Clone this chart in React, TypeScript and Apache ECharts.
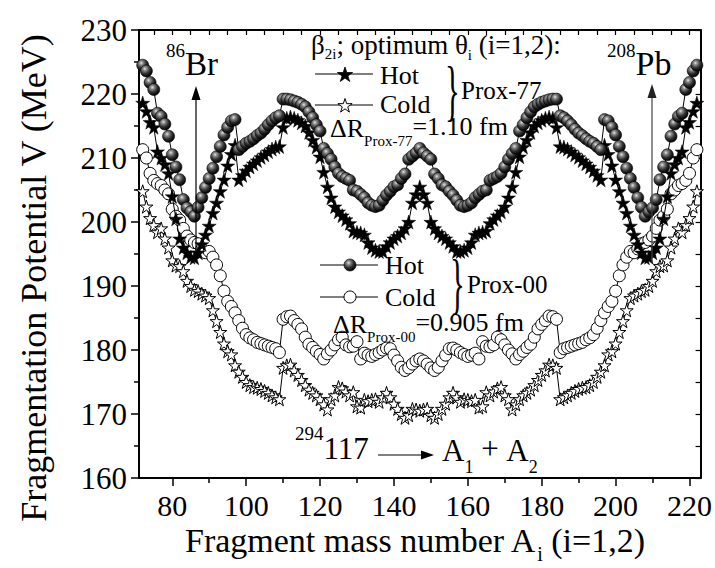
import React, { useEffect, useRef } from 'react';
import * as echarts from 'echarts';

// Fragment mass numbers A1 = 72 ... 222 (A1 + A2 = 294)
const massNumbers: number[] = Array.from({ length: 151 }, (_, i) => 72 + i);

// Prox-77, hot (filled stars)
const prox77Hot: number[] = [
  218.6, 217.3, 215.6, 214.8, 211.0, 210.0, 209.0, 207.6, 204.0, 200.5,
  197.4, 196.0, 195.2, 194.5, 194.4, 195.2, 196.5, 198.0, 199.4, 201.4,
  203.0, 204.8, 206.6, 208.8, 210.6, 212.0, 206.6, 207.3, 208.0, 208.6,
  209.1, 209.6, 210.1, 210.5, 211.0, 211.4, 211.7, 211.8, 214.8, 216.2,
  216.4, 216.2, 215.9, 215.5, 215.0, 214.0, 212.8, 211.7, 210.2, 207.8,
  205.5, 203.8, 202.4, 201.6, 201.0, 200.4, 199.8, 198.6, 198.4, 198.3,
  198.0, 196.8, 196.0, 195.6, 195.4, 195.4, 196.2, 196.8, 197.4, 197.8,
  198.3, 199.0, 200.0, 203.0, 204.3, 205.5,
  204.3, 203.0, 200.0, 199.0, 198.3, 197.8, 197.4, 196.8, 196.2, 195.4,
  195.4, 195.6, 196.0, 196.8, 198.0, 198.3, 198.4, 198.6, 199.8, 200.4,
  201.0, 201.6, 202.4, 203.8, 205.5, 207.8, 210.2, 211.7, 212.8, 214.0,
  215.0, 215.5, 215.9, 216.2, 216.4, 216.2, 214.8, 211.8, 211.7, 211.4,
  211.0, 210.5, 210.1, 209.6, 209.1, 208.6, 208.0, 207.3, 206.6, 212.0,
  210.6, 208.8, 206.6, 204.8, 203.0, 201.4, 199.4, 198.0, 196.5, 195.2,
  194.4, 194.5, 195.2, 196.0, 197.4, 200.5, 204.0, 207.6, 209.0, 210.0,
  211.0, 214.8, 215.6, 217.3, 218.6,
];

// Prox-77, cold (open stars)
const prox77Cold: number[] = [
  204.8, 202.4, 200.6, 199.5, 198.4, 199.0, 197.4, 196.0, 194.0, 193.2,
  193.1, 192.3, 190.8, 190.0, 189.4, 189.2, 188.8, 188.5, 188.1, 186.2,
  184.5, 182.8, 181.0, 179.8, 179.3, 177.6, 176.6, 175.8, 175.0, 174.5,
  174.2, 174.1, 173.9, 173.6, 173.3, 172.9, 172.6, 172.3, 177.2, 177.6,
  177.7, 176.8, 176.1, 175.3, 174.5, 173.8, 173.3, 172.9, 172.3, 171.5,
  170.7, 172.3, 172.9, 174.2, 174.0, 173.5, 172.9, 173.4, 171.2, 171.0,
  172.2, 172.0, 172.2, 172.3, 171.9, 172.6, 173.3, 172.6, 171.6, 170.8,
  170.0, 169.4, 169.8, 170.8, 170.7, 170.5,
  170.7, 170.8, 169.8, 169.4, 170.0, 170.8, 171.6, 172.6, 173.3, 172.6,
  171.9, 172.3, 172.2, 172.0, 172.2, 171.0, 171.2, 173.4, 172.9, 173.5,
  174.0, 174.2, 172.9, 172.3, 170.7, 171.5, 172.3, 172.9, 173.3, 173.8,
  174.5, 175.3, 176.1, 176.8, 177.7, 177.6, 177.2, 172.3, 172.6, 172.9,
  173.3, 173.6, 173.9, 174.1, 174.2, 174.5, 175.0, 175.8, 176.6, 177.6,
  179.3, 179.8, 181.0, 182.8, 184.5, 186.2, 188.1, 188.5, 188.8, 189.2,
  189.4, 190.0, 190.8, 192.3, 193.1, 193.2, 194.0, 196.0, 197.4, 199.0,
  198.4, 199.5, 200.6, 202.4, 204.8,
];

// Prox-00, hot (shaded spheres)
const prox00Hot: number[] = [
  224.5, 223.6, 221.8, 220.7, 217.0, 216.5, 215.3, 213.4, 210.5, 208.6,
  206.6, 203.5, 202.2, 201.6, 200.9, 202.3, 203.8, 205.4, 206.8, 208.4,
  210.2, 211.8, 213.6, 214.8, 215.8, 216.0, 211.3, 211.8, 212.3, 212.6,
  213.0, 213.5, 213.9, 214.5, 215.2, 215.8, 216.3, 216.6, 219.2, 219.2,
  219.1, 218.9, 218.7, 218.4, 218.0, 217.2, 216.3, 215.2, 214.2, 211.5,
  210.7, 209.8, 208.6, 207.6, 207.1, 206.8, 206.5, 205.0, 204.8, 204.3,
  203.8, 203.0, 202.6, 202.4, 202.6, 203.4, 204.2, 204.8, 205.5, 205.8,
  206.8, 207.5, 209.8, 210.3, 210.8, 211.5,
  210.8, 210.3, 209.8, 207.5, 206.8, 205.8, 205.5, 204.8, 204.2, 203.4,
  202.6, 202.4, 202.6, 203.0, 203.8, 204.3, 204.8, 205.0, 206.5, 206.8,
  207.1, 207.6, 208.6, 209.8, 210.7, 211.5, 214.2, 215.2, 216.3, 217.2,
  218.0, 218.4, 218.7, 218.9, 219.1, 219.2, 219.2, 216.6, 216.3, 215.8,
  215.2, 214.5, 213.9, 213.5, 213.0, 212.6, 212.3, 211.8, 211.3, 216.0,
  215.8, 214.8, 213.6, 211.8, 210.2, 208.4, 206.8, 205.4, 203.8, 202.3,
  200.9, 201.6, 202.2, 203.5, 206.6, 208.6, 210.5, 213.4, 215.3, 216.5,
  217.0, 220.7, 221.8, 223.6, 224.5,
];

// Prox-00, cold (open circles)
const prox00Cold: number[] = [
  211.3, 210.0, 207.6, 206.5, 206.0, 205.7, 205.0, 204.4, 202.0, 200.9,
  200.3, 199.0, 197.8, 197.2, 196.8, 196.6, 195.8, 195.2, 195.4, 194.5,
  193.3, 191.6, 189.2, 187.6, 186.8, 185.8, 184.6, 183.4, 182.4, 181.9,
  181.6, 181.2, 181.0, 180.8, 180.6, 180.4, 180.2, 179.6, 184.8, 185.2,
  185.3, 184.6, 184.0, 183.3, 182.0, 180.9, 180.4, 179.8, 179.3, 178.6,
  179.4, 180.0, 180.8, 181.6, 182.0, 180.8, 180.5, 180.6, 181.3, 178.6,
  179.5, 179.2, 179.0, 179.3, 179.6, 180.0, 180.3, 180.2, 179.2, 178.3,
  177.3, 176.8, 177.2, 177.8, 178.3, 178.6,
  178.3, 177.8, 177.2, 176.8, 177.3, 178.3, 179.2, 180.2, 180.3, 180.0,
  179.6, 179.3, 179.0, 179.2, 179.5, 178.6, 181.3, 180.6, 180.5, 180.8,
  182.0, 181.6, 180.8, 180.0, 179.4, 178.6, 179.3, 179.8, 180.4, 180.9,
  182.0, 183.3, 184.0, 184.6, 185.3, 185.2, 184.8, 179.6, 180.2, 180.4,
  180.6, 180.8, 181.0, 181.2, 181.6, 181.9, 182.4, 183.4, 184.6, 185.8,
  186.8, 187.6, 189.2, 191.6, 193.3, 194.5, 195.4, 195.2, 195.8, 196.6,
  196.8, 197.2, 197.8, 199.0, 200.3, 200.9, 202.0, 204.4, 205.0, 205.7,
  206.0, 206.5, 207.6, 210.0, 211.3,
];

const xMajorTicks: number[] = [80, 100, 120, 140, 160, 180, 200, 220];
const xMinorTicks: number[] = [90, 110, 130, 150, 170, 190, 210];
const xTopTicks: number[] = [75, 80, 85, 90, 95, 100, 105, 110, 115, 120, 125, 130, 135, 140, 145, 150, 155, 160, 165, 170, 175, 180, 185, 190, 195, 200, 205, 210, 215, 220];

const FONT = 'Liberation Serif, Times New Roman, serif';
const STAR_PATH =
  'path://M50,0L61.23,34.55L97.55,34.55L68.16,55.9L79.39,90.45L50,69.1L20.61,90.45L31.84,55.9L2.45,34.55L38.77,34.55Z';

function pairs(ys: number[]): number[][] {
  return massNumbers.map((a, i) => [a, ys[i]]);
}

function starPoints(cx: number, cy: number, R: number): number[][] {
  const pts: number[][] = [];
  const r = R * 0.382;
  for (let k = 0; k < 10; k++) {
    const ang = (-90 + k * 36) * (Math.PI / 180);
    const rad = k % 2 === 0 ? R : r;
    pts.push([cx + rad * Math.cos(ang), cy + rad * Math.sin(ang)]);
  }
  return pts;
}

function sphereFill() {
  return new echarts.graphic.RadialGradient(0.38, 0.32, 0.7, [
    { offset: 0, color: '#e6e6e6' },
    { offset: 0.22, color: '#8c8c8c' },
    { offset: 0.6, color: '#2e2e2e' },
    { offset: 1, color: '#000000' },
  ]);
}

let measureCtx: CanvasRenderingContext2D | null = null;
function measure(text: string, size: number): number {
  if (!measureCtx) {
    measureCtx = document.createElement('canvas').getContext('2d');
  }
  if (!measureCtx) return text.length * size * 0.5;
  measureCtx.font = `${size}px ${FONT}`;
  return measureCtx.measureText(text).width;
}

type Piece = { t: string; size: number; dy?: number };

function run(pieces: Piece[], x0: number, y0: number, fill = '#000'): any[] {
  let x = x0;
  const els: any[] = [];
  for (const p of pieces) {
    els.push({
      type: 'text',
      x,
      y: y0 + (p.dy || 0),
      z: 100,
      silent: true,
      style: {
        text: p.t,
        fontSize: p.size,
        fontFamily: FONT,
        fill,
        align: 'left',
        verticalAlign: 'middle',
      },
    });
    x += measure(p.t, p.size);
  }
  return els;
}

function hLine(x1: number, x2: number, y: number, color = '#000', width = 1): any {
  return {
    type: 'line',
    z: 100,
    silent: true,
    shape: { x1, y1: y, x2, y2: y },
    style: { stroke: color, lineWidth: width },
  };
}

function brace(x: number, y: number): any {
  return {
    type: 'text',
    x,
    y,
    scaleX: 0.45,
    z: 100,
    silent: true,
    style: { text: '}', fontSize: 68, fontFamily: FONT, fill: '#000', align: 'left', verticalAlign: 'middle' },
  };
}

function buildGraphics(): any[] {
  const g: any[] = [];
  // header
  g.push(
    ...run(
      [
        { t: 'β', size: 27 },
        { t: '2i', size: 15, dy: 9 },
        { t: '; optimum θ', size: 27 },
        { t: 'i', size: 15, dy: 10 },
        { t: ' (i=1,2):', size: 27 },
      ],
      311,
      45
    )
  );
  // Prox-77 legend
  g.push(hLine(315, 373, 74));
  g.push({ type: 'polygon', z: 101, silent: true, shape: { points: starPoints(345, 75, 8) }, style: { fill: '#000', stroke: '#000', lineWidth: 0.8 } });
  g.push(...run([{ t: 'Hot', size: 26 }], 380, 75));
  g.push(hLine(315, 373, 105));
  g.push({ type: 'polygon', z: 101, silent: true, shape: { points: starPoints(345, 106, 7.5) }, style: { fill: '#fff', stroke: '#000', lineWidth: 1 } });
  g.push(...run([{ t: 'Cold', size: 26 }], 380, 104));
  g.push(brace(445, 90));
  g.push(...run([{ t: 'Prox-77', size: 25 }], 461, 90));
  g.push(...run([{ t: 'ΔR', size: 26 }, { t: 'Prox-77', size: 15, dy: 13 }, { t: '=1.10 fm', size: 26, dy: -2 }], 330, 128));

  // Prox-00 legend
  g.push(hLine(320, 378, 265));
  g.push({ type: 'circle', z: 101, silent: true, shape: { cx: 350, cy: 265, r: 6 }, style: { fill: sphereFill(), stroke: '#000', lineWidth: 0.6 } });
  g.push(...run([{ t: 'Hot', size: 26 }], 385, 265));
  g.push(hLine(320, 378, 297));
  g.push({ type: 'circle', z: 101, silent: true, shape: { cx: 350, cy: 297, r: 6 }, style: { fill: '#fff', stroke: '#000', lineWidth: 1 } });
  g.push(...run([{ t: 'Cold', size: 26 }], 385, 297));
  g.push(brace(450, 283));
  g.push(...run([{ t: 'Prox-00', size: 25 }], 467, 284));
  g.push(...run([{ t: 'ΔR', size: 26 }, { t: 'Prox-00', size: 15, dy: 13 }, { t: '=0.905 fm', size: 26, dy: -2 }], 333, 324));

  // 86Br with arrow
  g.push(...run([{ t: '86', size: 19, dy: -14 }, { t: 'Br', size: 33 }], 166, 64));
  g.push({ type: 'line', z: 100, silent: true, shape: { x1: 196, y1: 262, x2: 196, y2: 96 }, style: { stroke: '#000', lineWidth: 1.2 } });
  g.push({ type: 'polygon', z: 100, silent: true, shape: { points: [[196, 86], [191.5, 100], [200.5, 100]] }, style: { fill: '#000' } });

  // 208Pb with arrow
  g.push(...run([{ t: '208', size: 19, dy: -13 }, { t: 'Pb', size: 34 }], 607, 63));
  g.push({ type: 'line', z: 100, silent: true, shape: { x1: 652, y1: 262, x2: 652, y2: 94 }, style: { stroke: '#444', lineWidth: 1.2 } });
  g.push({ type: 'polygon', z: 100, silent: true, shape: { points: [[652, 84], [647.5, 98], [656.5, 98]] }, style: { fill: '#222' } });

  // 294-117 -> A1 + A2
  g.push(...run([{ t: '294', size: 19, dy: -15 }, { t: '117', size: 31 }], 295, 448));
  g.push({ type: 'line', z: 100, silent: true, shape: { x1: 378, y1: 455, x2: 424, y2: 455 }, style: { stroke: '#000', lineWidth: 1.2 } });
  g.push({ type: 'polygon', z: 100, silent: true, shape: { points: [[434, 455], [421, 450.5], [421, 459.5]] }, style: { fill: '#000' } });
  g.push(
    ...run(
      [
        { t: 'A', size: 31 },
        { t: '1', size: 18, dy: 17 },
        { t: ' + ', size: 31, dy: -2 },
        { t: 'A', size: 31 },
        { t: '2', size: 18, dy: 17 },
      ],
      442,
      450
    )
  );

  // x-axis title with subscript
  const xt: Piece[] = [
    { t: 'Fragment mass number A', size: 34 },
    { t: 'i', size: 20, dy: 14 },
    { t: ' (i=1,2)', size: 34 },
  ];
  const totalW = xt.reduce((s, p) => s + measure(p.t, p.size), 0);
  g.push(...run(xt, 415 - totalW / 2, 540));

  // y-axis title (rotated)
  g.push({
    type: 'text',
    x: 34,
    y: 278,
    rotation: Math.PI / 2,
    z: 100,
    silent: true,
    style: {
      text: 'Fragmentation Potential V (MeV)',
      fontSize: 36,
      fontFamily: FONT,
      fill: '#000',
      align: 'center',
      verticalAlign: 'middle',
    },
  });
  return g;
}

export default function App() {
  const ref = useRef<HTMLDivElement>(null);

  useEffect(() => {
    if (!ref.current) return;
    const chart = echarts.init(ref.current, undefined, { renderer: 'svg' });

    const axisCommon = {
      type: 'value' as const,
      splitLine: { show: false },
    };
    const lineBlack = { color: '#000', width: 2 };

    const option: any = {
      animation: false,
      backgroundColor: '#fff',
      textStyle: { fontFamily: FONT },
      grid: { left: 139, right: 9, top: 30, bottom: 90, containLabel: false },
      xAxis: [
        {
          ...axisCommon,
          min: 71,
          max: 223,
          position: 'bottom',
          axisLine: { show: true, onZero: false, lineStyle: lineBlack },
          axisTick: { show: true, inside: false, length: 8, customValues: xMajorTicks, lineStyle: { color: '#000', width: 1.5 } },
          axisLabel: { show: true, customValues: xMajorTicks, fontSize: 30, fontFamily: FONT, color: '#000', margin: 12 },
        },
        {
          ...axisCommon,
          min: 71,
          max: 223,
          position: 'bottom',
          axisLine: { show: false, onZero: false },
          axisTick: { show: true, inside: false, length: 5, customValues: xMinorTicks, lineStyle: { color: '#000', width: 1.5 } },
          axisLabel: { show: false },
        },
        {
          ...axisCommon,
          min: 71,
          max: 223,
          position: 'top',
          axisLine: { show: true, onZero: false, lineStyle: lineBlack },
          axisTick: { show: true, inside: true, length: 5, customValues: xTopTicks, lineStyle: { color: '#000', width: 1.2 } },
          axisLabel: { show: false },
        },
      ],
      yAxis: [
        {
          ...axisCommon,
          min: 160,
          max: 230,
          interval: 10,
          position: 'left',
          axisLine: { show: true, onZero: false, lineStyle: lineBlack },
          axisTick: { show: true, inside: false, length: 8, lineStyle: { color: '#000', width: 1.5 } },
          minorTick: { show: true, splitNumber: 2, length: 5, lineStyle: { color: '#000', width: 1.5 } },
          axisLabel: { show: true, fontSize: 31, fontFamily: FONT, color: '#000', margin: 12 },
        },
        {
          ...axisCommon,
          min: 160,
          max: 230,
          interval: 10,
          position: 'right',
          axisLine: { show: true, onZero: false, lineStyle: lineBlack },
          axisTick: { show: true, inside: true, length: 5, lineStyle: { color: '#000', width: 1.2 } },
          minorTick: { show: true, splitNumber: 2, length: 5, lineStyle: { color: '#000', width: 1.2 } },
          axisLabel: { show: false },
        },
      ],
      series: [
        {
          type: 'line',
          name: 'Prox-00 Cold',
          data: pairs(prox00Cold),
          symbol: 'circle',
          symbolSize: 12,
          showSymbol: true,
          lineStyle: { color: '#000', width: 1 },
          itemStyle: { color: '#fff', borderColor: '#000', borderWidth: 1 },
          silent: true,
          z: 2,
        },
        {
          type: 'line',
          name: 'Prox-77 Cold',
          data: pairs(prox77Cold),
          symbol: STAR_PATH,
          symbolSize: 13,
          showSymbol: true,
          lineStyle: { color: '#000', width: 1 },
          itemStyle: { color: '#fff', borderColor: '#000', borderWidth: 1 },
          silent: true,
          z: 3,
        },
        {
          type: 'line',
          name: 'Prox-77 Hot',
          data: pairs(prox77Hot),
          symbol: STAR_PATH,
          symbolSize: 14,
          showSymbol: true,
          lineStyle: { color: '#000', width: 1 },
          itemStyle: { color: '#000', borderColor: '#000', borderWidth: 0.5 },
          silent: true,
          z: 4,
        },
        {
          type: 'line',
          name: 'Prox-00 Hot',
          data: pairs(prox00Hot),
          symbol: 'circle',
          symbolSize: 12,
          showSymbol: true,
          lineStyle: { color: '#000', width: 1 },
          itemStyle: { color: sphereFill(), borderColor: '#000', borderWidth: 0.6 },
          silent: true,
          z: 5,
        },
      ],
      graphic: buildGraphics(),
    };

    chart.setOption(option);
    return () => {
      chart.dispose();
    };
  }, []);

  return (
    <div
      ref={ref}
      style={{ position: 'fixed', left: 0, top: 0, width: 715, height: 568, background: '#fff' }}
    />
  );
}
